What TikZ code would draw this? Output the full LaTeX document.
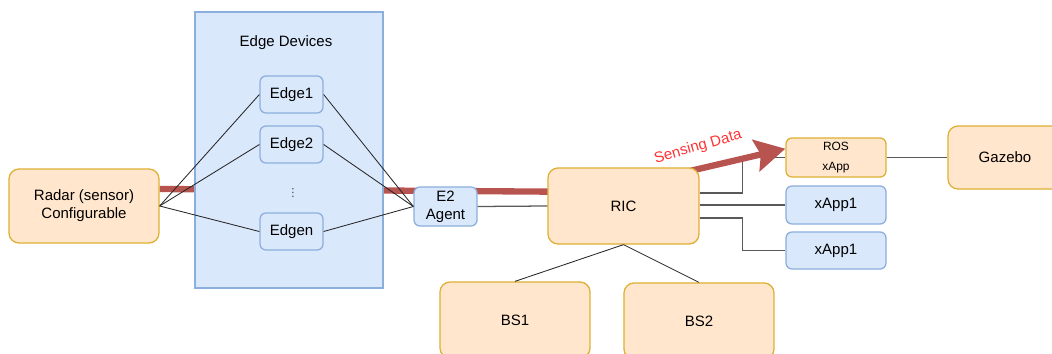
\documentclass[tikz,border=0pt]{standalone}
\usepackage{fontspec}
\setmainfont{Liberation Sans}
\newfontfamily\dotsfont{DejaVu Sans}
\usetikzlibrary{positioning, arrows.meta, backgrounds}

\definecolor{orangefill}{HTML}{FFE6CC}
\definecolor{orangeline}{HTML}{D79B00}
\definecolor{bluefill}{HTML}{DAE8FC}
\definecolor{blueline}{HTML}{8CAEDC}
\definecolor{redline}{HTML}{B85450}
\definecolor{redtext}{HTML}{FF3333}

\begin{document}
\begin{tikzpicture}[x=0.025cm, y=-0.025cm,
  every node/.style={font=\fontsize{10.67}{12.8}\selectfont},
  obox/.style={draw=orangeline!80, fill=orangefill, rounded corners=0.25cm, line width=0.9pt, align=center, inner sep=0pt},
  bbox/.style={draw=blueline, fill=bluefill, rounded corners=0.15cm, line width=0.9pt, align=center, inner sep=0pt},
  link/.style={black!85, line width=0.6pt},
  glink/.style={black!65, line width=0.9pt},
  sense/.style={redline, line width=4.5pt, -{Stealth[length=0.75cm, width=0.8cm, inset=0.12cm]}}]
\useasboundingbox (0,0) rectangle (1052,354);
\clip (0,0) rectangle (1052,354);

% edge devices
\node[draw=blueline, fill=bluefill, line width=0.9pt, minimum width=4.7cm, minimum height=6.9cm] (edgebox) at (289,150) {};
\node (devtitle) at (286,43) {Edge Devices};
\node[bbox, minimum width=1.575cm, minimum height=0.925cm] (edge1) at (291.5,94.5) {Edge1};
\node[bbox, minimum width=1.575cm, minimum height=0.925cm] (edge2) at (291.5,144.5) {Edge2};
\node[text=black!70, font=\dotsfont\fontsize{8}{8}\selectfont, inner sep=0pt] (dots) at (293,193) {⋮};
\node[bbox, minimum width=1.575cm, minimum height=0.925cm] (edgen) at (291.5,231.5) {Edgen};

\node[obox, minimum width=3.75cm, minimum height=1.85cm] (radar) at (84,206) {Radar (sensor)\\Configurable};
\node[bbox, minimum width=1.575cm, minimum height=0.975cm] (e2) at (445.5,206.5) {E2\\Agent};
\node[obox, minimum width=3.775cm, minimum height=1.9cm] (ric) at (623.5,206) {RIC};

% xApps
\node[obox, rounded corners=0.15cm, minimum width=2.5cm, minimum height=0.975cm, font=\fontsize{8.5}{14.2}\selectfont] (ros) at (836,157.5) {ROS\\xApp};
\node[bbox, minimum width=2.5cm, minimum height=0.95cm] (xapp1) at (836,205) {xApp1};
\node[bbox, minimum width=2.5cm, minimum height=0.925cm] (xapp2) at (836,250.5) {xApp1};
\node[obox, minimum width=2.85cm, minimum height=1.575cm] (gazebo) at (1005,157.5) {Gazebo};

% base stations
\node[obox, minimum width=3.75cm, minimum height=1.9cm] (bs1) at (515,320) {BS1};
\node[obox, minimum width=3.75cm, minimum height=1.9cm] (bs2) at (699,321) {BS2};

\begin{scope}[on background layer]
\draw[glink] ([yshift=0.325cm]ric.east) -- ++(43,0) |- (ros.west);
\draw[sense] ([yshift=0.425cm]radar.east) -- (600,192) -- ([yshift=0.22cm]ros.west);
\end{scope}
\node[text=redtext, rotate=16] (senselabel) at (698,147) {Sensing Data};

\foreach \e in {edge1,edge2,edgen} {
  \draw[link] (radar.east) -- (\e.west);
  \draw[link] (\e.east) -- (e2.west);
}
\draw[glink] (e2.east) -- (ric.west);
\draw[glink] (ric.east |- xapp1.west) -- (xapp1.west);
\draw[glink] ([yshift=-0.3cm]ric.east) -- ++(43,0) |- (xapp2.west);
\draw[glink] (ros.east) -- (gazebo.west);
\draw[link] (ric.south) -- (bs1.north);
\draw[link] (ric.south) -- (bs2.north);
\end{tikzpicture}
\end{document}
